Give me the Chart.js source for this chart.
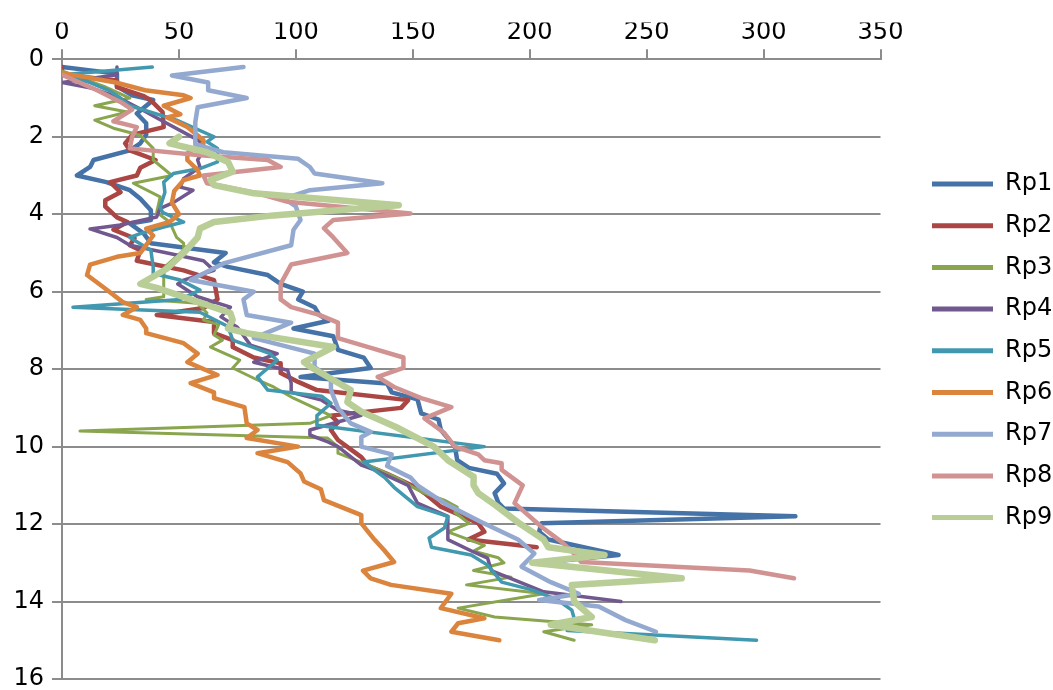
<!DOCTYPE html>
<html>
<head>
<meta charset="utf-8">
<script src="https://cdn.jsdelivr.net/npm/chart.js@4.4.1/dist/chart.umd.min.js"></script>
<style>
  html, body { margin: 0; padding: 0; background: #fff; }
  canvas { display: block; }
</style>
</head>
<body>
<canvas id="c" width="1053" height="690"></canvas>
<script>
// ---- DATA: [depth, value] pairs ----
const seriesNames = ['Rp1','Rp2','Rp3','Rp4','Rp5','Rp6','Rp7','Rp8','Rp9'];

const rp1 = [[0.2,0],[0.37,23.5],[0.7,23.5],[0.93,30],[1.05,39],[1.4,32],[1.65,36],[1.95,36],[2.17,33.5],[2.35,29],[2.6,13.5],[2.78,12],[3.0,6.4],[3.17,19],[3.38,29],[3.6,33.5],[3.9,38],[4.15,38],[4.24,29],[4.5,35],[4.75,38],[5.0,70],[5.24,65],[5.36,71],[5.57,88],[5.8,93.5],[6.0,103],[6.2,101],[6.4,108],[6.6,110],[6.75,114],[6.95,99],[7.15,116],[7.5,118],[7.7,129],[7.97,132],[8.2,102],[8.37,139],[8.6,141],[8.78,152],[9.14,153.6],[9.3,161],[9.57,162],[10.0,168],[10.35,169],[10.55,174],[10.7,186],[10.95,189],[11.2,185],[11.45,186.6],[11.6,189],[11.8,313.6],[11.98,205],[12.2,204],[12.4,208],[12.8,238],[13.0,204]];

const rp2 = [[0.2,0],[0.4,0],[0.55,23.5],[0.72,23.5],[0.95,35],[1.06,38],[1.36,43],[1.75,43.5],[1.86,36],[1.95,30],[2.17,27],[2.35,29],[2.6,40],[2.8,33.5],[3.0,32],[3.17,20.6],[3.43,25],[3.64,18.5],[3.8,18.5],[4.08,23.5],[4.2,28],[4.4,22],[4.62,31],[4.8,29],[4.93,33.5],[5.2,32],[5.45,52],[5.7,65],[6.2,66.5],[6.42,60.5],[6.6,40.5],[6.78,65],[7.07,65],[7.25,73],[7.43,73],[7.7,82],[7.85,93.5],[8.1,93.5],[8.33,101],[8.54,109],[8.8,148],[9.0,145],[9.2,115],[9.37,118],[9.57,115],[9.83,118],[10.27,128],[10.5,131],[10.7,139],[11.07,152],[11.2,155],[11.55,162],[11.98,178],[12.2,180.6],[12.4,173.7],[12.6,203]];

const rp3 = [[0.3,0],[0.7,18],[1.0,29],[1.2,14],[1.36,28],[1.57,14],[1.78,22],[1.96,33.5],[2.3,39],[2.6,39],[3.0,47],[3.2,30.5],[3.55,42],[3.95,40.5],[4.2,46],[4.6,49],[4.75,52],[4.93,52],[5.36,44],[5.6,43.5],[6.13,43.5],[6.2,36],[6.3,58],[6.55,62],[6.73,60.5],[6.85,67],[7.12,65],[7.25,68.6],[7.43,63.5],[7.77,76],[7.97,73],[8.28,83.6],[8.46,90.5],[8.75,99],[9.2,115],[9.4,106],[9.6,7.7],[9.78,113.6],[10.0,118],[10.17,118],[10.48,131],[10.86,145],[11.07,150.6],[11.2,155],[11.38,163.5],[11.56,169],[11.7,168],[11.98,174],[12.2,165],[12.55,180.6],[12.7,176],[12.87,186.6],[13.0,189],[13.2,176],[13.37,192],[13.57,173],[13.8,206],[14.17,169.4],[14.4,185],[14.6,226.5],[14.78,206],[15.0,219]];

const rp4 = [[0.2,23.5],[0.4,23.5],[0.6,0],[0.75,13],[0.97,23.5],[1.36,36],[1.53,41],[2.08,58],[2.2,60.5],[2.35,60.5],[2.6,58],[2.78,59],[3.08,52],[3.3,50.6],[3.38,56],[3.7,47.6],[3.85,42],[4.07,40.5],[4.28,25],[4.38,12],[4.6,23.5],[4.8,29],[5.0,45],[5.2,60.5],[5.45,65],[5.7,52],[5.8,49.5],[6.13,58],[6.4,72],[6.65,68],[6.92,75],[7.38,80.6],[7.6,92],[7.82,82],[8.03,96.5],[8.36,98],[8.6,98],[8.8,111],[9.06,118],[9.19,128],[9.57,106],[9.7,106],[9.88,113.7],[10.0,118],[10.48,128],[10.6,133.6],[11.0,148],[11.46,152],[11.8,165],[12.4,165],[12.72,176],[12.88,182],[13.2,183.6],[13.75,206],[14.0,239]];

const rp5 = [[0.2,38.6],[0.4,0],[0.6,12],[0.8,20],[1.0,25],[1.2,29],[1.57,49],[2.0,65],[2.13,62],[2.3,66.5],[2.65,66.5],[2.82,59],[2.95,47.6],[3.17,43.5],[3.43,44],[3.82,42],[3.95,43],[4.2,52],[4.33,43.5],[4.5,33.5],[4.6,29],[4.93,38],[5.36,39],[5.53,39],[5.7,50.6],[5.96,59],[6.2,50.6],[6.4,4.7],[6.53,59],[6.9,71],[7.25,73],[7.6,89],[7.77,92],[8.2,83.6],[8.54,88],[8.7,111],[8.88,115],[9.2,109],[9.45,109],[10.0,180.6],[10.4,129],[10.8,138],[11.05,142],[11.55,152],[11.8,165],[12.1,163.5],[12.36,157],[12.6,158],[12.8,175],[13.06,182],[13.5,188],[13.7,201],[13.96,212],[14.22,218],[14.43,219],[14.6,216],[14.75,216],[15.0,297]];

const rp6 = [[0.35,0],[0.6,23],[0.8,35.5],[0.93,52],[1.0,55],[1.2,43.5],[1.42,50.6],[1.5,45],[1.75,53.6],[2.09,60.5],[2.17,60.5],[2.43,53.6],[2.6,53.6],[2.86,58],[3.0,59],[3.12,52],[3.4,48],[3.7,47],[4.0,50],[4.2,46],[4.37,36],[4.55,39],[5.0,33.5],[5.1,23.5],[5.3,12],[5.57,10.7],[5.88,17.6],[6.27,26],[6.4,32],[6.6,26],[6.73,33.5],[6.95,36],[7.07,36],[7.33,52],[7.6,58],[7.82,53.6],[8.15,66.5],[8.36,55],[8.6,65],[8.75,65],[8.98,78],[9.4,79],[9.57,83.6],[9.78,79],[10.0,101],[10.17,83.6],[10.4,96.5],[10.69,102],[10.9,103.5],[11.1,110.7],[11.38,112],[11.77,128],[11.98,128],[12.4,133.6],[12.67,137.7],[12.98,142],[13.2,128.7],[13.4,132],[13.57,140.7],[13.8,166.5],[14.17,162],[14.43,180.6],[14.56,169.4],[14.78,166.5],[15.0,187]];

const rp7 = [[0.2,77.6],[0.42,47],[0.6,62.5],[0.8,62.5],[1.0,79],[1.24,58],[1.62,57],[2.2,57],[2.4,69],[2.57,101],[2.78,106],[2.95,108],[3.2,137],[3.38,106],[3.6,95],[3.8,100],[4.15,102],[4.4,99],[4.8,98],[5.27,69],[5.7,55],[6.0,82],[6.2,77.6],[6.6,79],[6.8,98],[7.2,82],[7.6,108],[7.95,108],[8.24,115],[8.54,115],[9.0,118],[9.4,123.5],[9.62,132],[9.75,128],[10.0,128],[10.2,141],[10.5,139],[10.8,149],[11.0,152],[11.46,163.5],[11.94,179],[12.4,195],[12.76,202],[13.1,196.5],[13.5,209],[13.8,221],[13.96,204],[14.13,229.5],[14.48,241],[14.78,254]];

const rp8 = [[0.4,0],[0.8,15],[1.1,25],[1.3,30],[1.6,22],[1.75,32],[2.0,30],[2.3,29],[2.48,59],[2.6,88],[2.78,93.5],[3.0,60.5],[3.2,62],[3.46,83.6],[3.68,96.5],[3.98,149],[4.15,116],[4.36,112],[4.6,116],[5.0,122],[5.3,98],[5.8,93.5],[6.2,93.5],[6.4,98],[6.6,110],[6.8,118],[7.2,118],[7.43,131],[7.7,146],[7.97,146],[8.2,135],[8.46,142],[8.75,153.6],[8.98,166.5],[9.27,155],[9.65,163.5],[10.0,168],[10.2,178],[10.35,180.6],[10.43,188],[10.6,188],[11.0,197],[11.46,193.5],[12.07,205],[12.46,213.6],[12.7,218],[12.98,222],[13.2,294],[13.4,313]];

const rp9 = [[2.0,50],[2.17,46],[2.4,62],[2.65,71],[2.9,73],[3.12,63.5],[3.25,65],[3.46,82],[3.77,144],[4.03,90.5],[4.2,65],[4.37,59],[4.6,58],[5.0,52],[5.4,45],[5.8,33.5],[5.9,40.5],[6.2,55],[6.55,72],[6.73,73],[6.95,71],[7.07,79],[7.43,116],[7.82,103.5],[7.97,107],[8.28,116],[8.54,123.5],[8.85,122],[9.1,128],[9.5,143],[10.0,159],[10.35,165],[10.78,176],[11.0,176],[11.2,178],[11.5,185],[12.0,196],[12.4,206],[12.6,208],[12.8,232],[13.0,201],[13.4,265],[13.57,218],[14.0,219],[14.4,226.5],[14.6,209],[15.0,253.5]];

const seriesData = [rp1, rp2, rp3, rp4, rp5, rp6, rp7, rp8, rp9];

// axis ranges / ticks
const xMin = 0, xMax = 350, xStep = 50;
const yMin = 0, yMax = 16, yStep = 2;

// ---- STYLE ----
const colors = ['#4572A7','#AA4643','#89A54E','#71588F','#4198AF','#DB843D','#93A9CF','#D19392','#B9CD96'];
const widths = [4.5, 4.5, 3, 3.5, 3.5, 4.5, 4.5, 4.5, 6.5];
const GRID = '#8c8c8c';
const FONT = { family: 'DejaVu Sans', size: 24 };

const datasets = seriesNames.map((name, i) => ({
  label: name,
  data: seriesData[i].map(p => ({ x: p[1], y: p[0] })),
  showLine: true,
  borderColor: colors[i],
  backgroundColor: colors[i],
  borderWidth: widths[i],
  borderJoinStyle: 'round',
  borderCapStyle: 'round',
  pointRadius: 0,
  pointHoverRadius: 0,
  tension: 0,
  fill: false,
  order: seriesNames.length - 1 - i
}));

const PAD_TOP = 22.6, PAD_BOTTOM = 11;
const AREA_TOP = 59.3, AREA_LEFT = 62, AREA_RIGHT = 880.5;
const LEGEND_W = 138.7;

new Chart(document.getElementById('c'), {
  type: 'scatter',
  data: { datasets },
  options: {
    responsive: false,
    animation: false,
    devicePixelRatio: 1,
    layout: { padding: { top: PAD_TOP, bottom: PAD_BOTTOM, left: 0, right: 0 } },
    scales: {
      x: {
        type: 'linear', position: 'top', min: xMin, max: xMax,
        ticks: { stepSize: xStep, color: '#000', font: FONT, padding: 2, maxRotation: 0 },
        grid: { drawOnChartArea: false, drawTicks: true, tickLength: 10, color: GRID, lineWidth: 2 },
        border: { display: true, color: GRID, width: 2 },
        afterFit(s) { s.height = AREA_TOP - PAD_TOP; s.paddingLeft = 0; s.paddingRight = 0; }
      },
      y: {
        type: 'linear', position: 'left', reverse: true, min: yMin, max: yMax,
        ticks: { stepSize: yStep, color: '#000', font: FONT, padding: 8 },
        grid: { color: GRID, lineWidth: 2, tickLength: 10 },
        border: { display: true, color: GRID, width: 2 },
        afterFit(s) { s.width = AREA_LEFT; s.paddingTop = 0; s.paddingBottom = 0; }
      },
      gap: {
        type: 'linear', position: 'right', display: true,
        grid: { display: false }, ticks: { display: false }, border: { display: false },
        afterFit(s) { s.width = 1053 - LEGEND_W - AREA_RIGHT; s.paddingTop = 0; s.paddingBottom = 0; }
      }
    },
    plugins: {
      tooltip: { enabled: false },
      legend: {
        position: 'right',
        align: 'center',
        maxWidth: LEGEND_W,
        labels: {
          boxWidth: 61,
          boxHeight: 5,
          padding: 17.7,
          color: '#000',
          font: FONT,
          sort: (a, b) => a.datasetIndex - b.datasetIndex,
          generateLabels(chart) {
            const items = Chart.defaults.plugins.legend.labels.generateLabels(chart);
            items.forEach(it => { it.fillStyle = colors[it.datasetIndex]; it.lineWidth = 0; });
            return items;
          }
        }
      }
    }
  }
});
</script>
</body>
</html>
